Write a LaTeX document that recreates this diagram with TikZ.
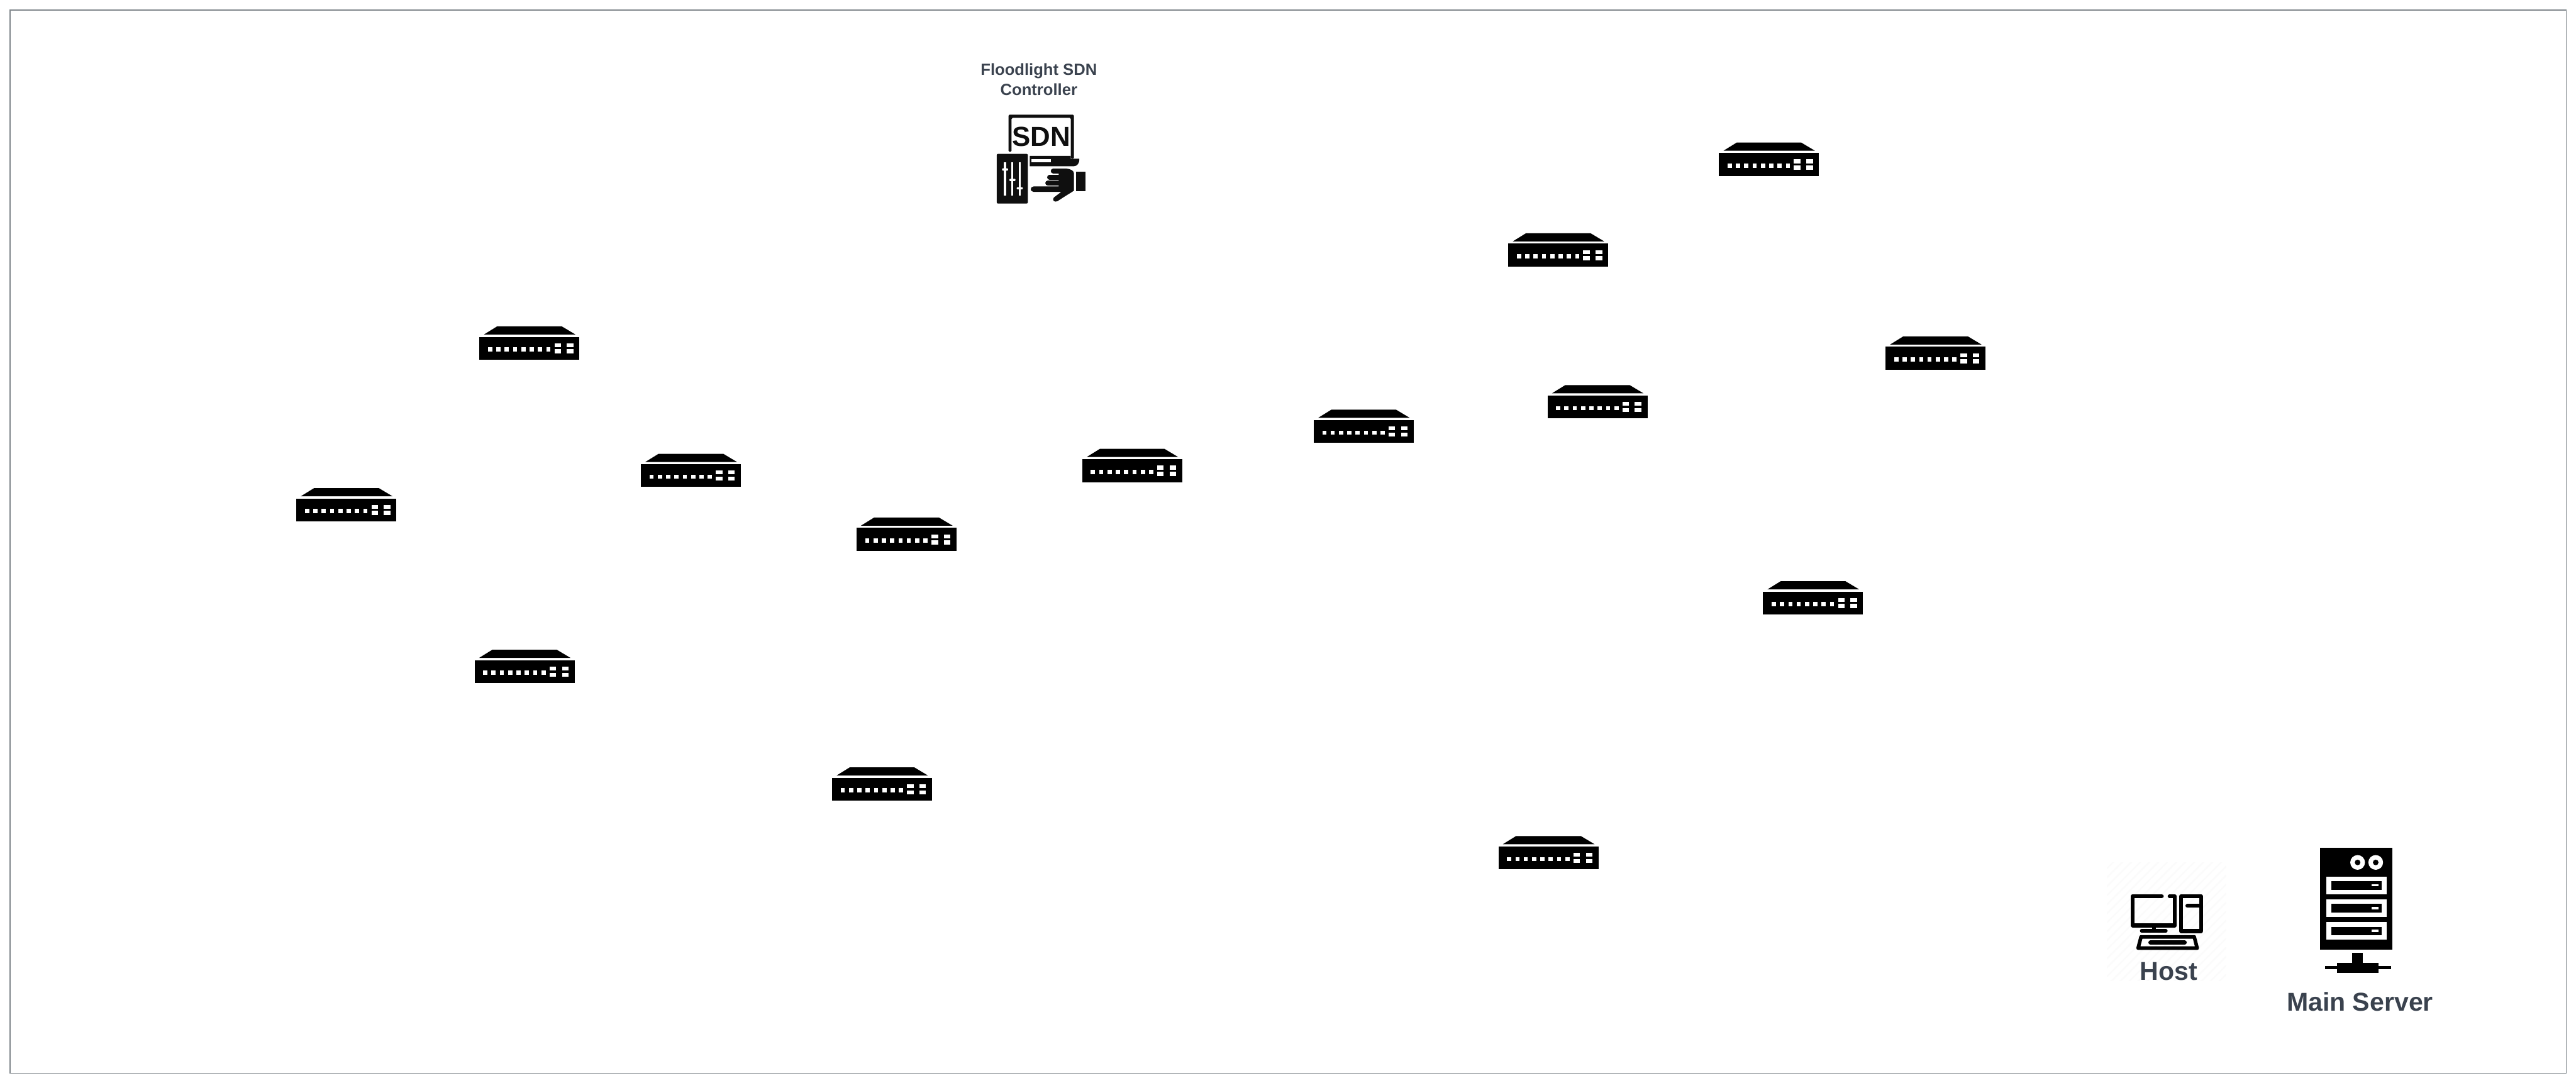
\documentclass[tikz,border=0pt]{standalone}
\usepackage{fontspec}
\setmainfont{Liberation Sans}
\usetikzlibrary{patterns.meta}
\definecolor{framegray}{HTML}{80868B}
\definecolor{lblgray}{HTML}{3A424E}
\definecolor{iconblack}{HTML}{0F0F0F}
\definecolor{hatchgray}{HTML}{FBFBFB}

\tikzset{
  lbl/.style={font=\fontsize{15}{17}\selectfont\bfseries,text=lblgray,inner sep=0pt,anchor=base},
  smalllbl/.style={font=\fontsize{9.35}{11.3}\selectfont\bfseries,text=lblgray,inner sep=0pt,anchor=base},
  sdnlbl/.style={font=\fontsize{16}{18}\selectfont\bfseries,text=iconblack,inner sep=0pt,anchor=base},
  % one switch, drawn from its top centre, units are reference pixels
  switchicon/.pic={
    \begin{scope}[x=0.01cm,y=-0.01cm]
      \fill[black] (-66,0) -- (66,0) -- (94,16.7) -- (-93,16.7) -- cycle;
      \fill[black] (-102,21.3) rectangle (102,68);
      \foreach \i in {0,...,7}
        \fill[white] ({-84.6+17*\i},42.7) rectangle ({-76+17*\i},51.3);
      \foreach \p in {51,76.3} {
        \fill[white] (\p,34.3) rectangle ({\p+13.3},42.3);
        \fill[white] (\p,46.7) rectangle ({\p+13.3},55);
      }
    \end{scope}
  },
  % the rest: units are a third of a reference pixel
  sdnicon/.pic={
    \begin{scope}[x=0.01cm/3,y=-0.01cm/3]
      \fill[iconblack,rounded corners=0.6pt] (325,630) -- (325,402) -- (725,402) -- (725,672) -- (706,672) -- (706,422) -- (343,422) -- (343,630) -- cycle;
      \fill[iconblack] (455,655) -- (706,655) -- (706,672) -- (758,672) .. controls (760,700) and (745,718) .. (725,718) -- (455,718) -- cycle;
      \fill[white] (466,675) rectangle (584,693);
      % tablet with sliders
      \fill[iconblack,rounded corners=0.8pt] (252,642) rectangle (443,947);
      \foreach \sx/\sy in {303/738,348/802,393/853} {
        \fill[white] (\sx-6,693) rectangle (\sx+6,897);
        \fill[white,rounded corners=0.4pt] (\sx-18,\sy-7) rectangle (\sx+19,\sy+7);
      }
      % hand
      \fill[iconblack] (632,733) -- (680,733) .. controls (700,733) and (725,745) .. (725,760) -- (725,868)
        .. controls (700,885) and (680,895) .. (625,932) .. controls (605,942) and (590,925) .. (602,910)
        -- (648,875) -- (478,875) .. controls (455,875) and (455,842) .. (478,842) -- (632,842) -- cycle;
      \draw[iconblack,line width=0.107cm,line cap=round] (566,822) -- (650,822);
      \draw[iconblack,line width=0.1cm,line cap=round] (576,785) -- (650,785);
      \draw[iconblack,line width=0.097cm,line cap=round] (598,747) -- (650,747);
      \fill[iconblack] (738,753) rectangle (795,871);
    \end{scope}
  },
  hosticon/.pic={
    \begin{scope}[x=0.01cm/3,y=-0.01cm/3,line join=round,line cap=round]
      \draw[black,line width=0.08cm] (395,387) -- (216,387) -- (216,566) -- (476,566) -- (476,387) -- (443,387);
      \draw[black,line width=0.08cm,line cap=butt] (347,578) -- (347,600);
      \draw[black,line width=0.073cm] (272,600) -- (420,600);
      \draw[black,line width=0.08cm] (514,387) rectangle (635,601);
      \draw[black,line width=0.08cm] (552,446) -- (630,446);
      \draw[black,line width=0.073cm] (268,636) -- (594,636) -- (612,705) -- (250,705) -- cycle;
      \draw[black,line width=0.087cm] (326,671) -- (535,671);
    \end{scope}
  },
  servericon/.pic={
    \begin{scope}[x=0.01cm/3,y=-0.01cm/3]
      \fill[black] (283,90) rectangle (728,713);
      \foreach \cx in {514,625} {
        \fill[white] (\cx,180) circle[radius=0.15cm];
        \fill[black] (\cx,180) circle[radius=0.057cm];
      }
      \foreach \by in {267,407,546} {
        \fill[white] (324,\by) rectangle (691,\by+108);
        \fill[black] (352,\by+28) rectangle (663,\by+80);
        \fill[white] (600,\by+45) rectangle (642,\by+60);
      }
      \fill[black] (481,732) rectangle (547,795);
      \fill[black] (386,795) rectangle (642,857);
      \fill[black] (315,816) rectangle (720,833);
    \end{scope}
  }
}

\begin{document}
\begin{tikzpicture}

\useasboundingbox (0,0) rectangle (52.57,-22.10);
\fill[white] (0,0) rectangle (52.57,-22.10);

% Outer frame
\draw[framegray,line width=0.5pt] (0.205,-0.205) rectangle (52.37,-21.90);

% ---- Switches -----------------------------------------------
\pic (sw1)  at (7.07,-9.96)    {switchicon};
\pic (sw2)  at (10.805,-6.66)  {switchicon};
\pic (sw3)  at (14.10,-9.26)   {switchicon};
\pic (sw4)  at (10.705,-13.26) {switchicon};
\pic (sw5)  at (18.50,-10.56)  {switchicon};
\pic (sw6)  at (23.105,-9.16)  {switchicon};
\pic (sw7)  at (27.83,-8.36)   {switchicon};
\pic (sw8)  at (18.00,-15.66)  {switchicon};
\pic (sw9)  at (31.80,-4.76)   {switchicon};
\pic (sw10) at (36.10,-2.91)   {switchicon};
\pic (sw11) at (32.60,-7.86)   {switchicon};
\pic (sw12) at (39.50,-6.865)  {switchicon};
\pic (sw13) at (37.00,-11.86)  {switchicon};
\pic (sw14) at (31.60,-17.06)  {switchicon};

% ---- Controller ---------------------------------------------
\pic (sdn) at (19.50,-1.00) {sdnicon};
\node[sdnlbl] (sdntext) at (21.25,-2.99) {SDN};
\node[smalllbl] (ctrl1) at (21.20,-1.54) {Floodlight SDN};
\node[smalllbl] (ctrl2) at (21.20,-1.94) {Controller};

% ---- Host ---------------------------------------------------
\fill[pattern={Lines[angle=45,distance=3.7pt,line width=0.9pt]},pattern color=hatchgray]
  (43.00,-17.60) rectangle (45.43,-20.02);
\pic (host) at (42.80,-17.00) {hosticon};
\node[lbl] (hostlbl) at (44.26,-20.00) {Host};

% ---- Main server --------------------------------------------
\pic (server) at (46.40,-17.00) {servericon};
\node[lbl] (serverlbl) at (48.16,-20.63) {Main Server};

\end{tikzpicture}
\end{document}
